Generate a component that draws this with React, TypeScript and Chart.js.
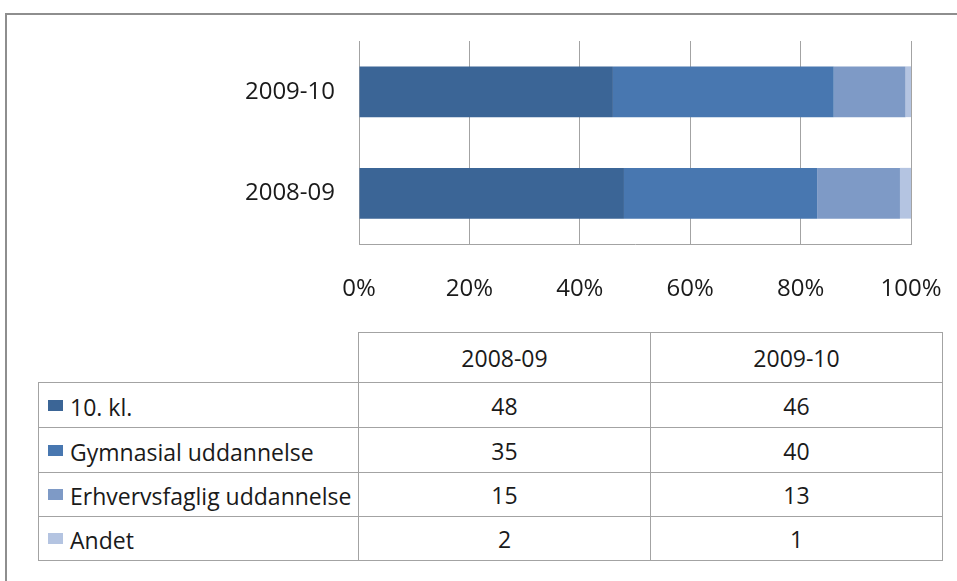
import React, { useEffect, useRef } from "react";
import { Chart, registerables } from "chart.js";

Chart.register(...registerables);

const categories = ["2008-09", "2009-10"];
const seriesNames = ["10. kl.", "Gymnasial uddannelse", "Erhvervsfaglig uddannelse", "Andet"];
const kl10 = [48, 46];
const gymnasial = [35, 40];
const erhverv = [15, 13];
const andet = [2, 1];
const seriesValues = [kl10, gymnasial, erhverv, andet];
const seriesColors = ["#3b6596", "#4877b0", "#7e9ac6", "#b4c4e1"];
const xTicks = [0, 20, 40, 60, 80, 100];

const FONT = "'Open Sans', 'Noto Sans', sans-serif";
const TEXT = "#1a1a1a";
const LINE = "#a3a3a3";

export default function App() {
  const ref = useRef<HTMLCanvasElement | null>(null);

  useEffect(() => {
    if (!ref.current) return;
    const chart = new Chart(ref.current, {
      type: "bar",
      data: {
        labels: categories,
        datasets: seriesNames.map((name, i) => ({
          label: name,
          data: seriesValues[i],
          backgroundColor: seriesColors[i],
          borderWidth: 0,
          categoryPercentage: 1,
          barPercentage: 0.5,
        })),
      },
      options: {
        indexAxis: "y",
        responsive: false,
        animation: false,
        devicePixelRatio: 1,
        layout: { padding: { left: 0, top: 41, right: 46, bottom: 0 } },
        plugins: { legend: { display: false }, tooltip: { enabled: false } },
        scales: {
          x: {
            stacked: true,
            min: 0,
            max: 100,
            afterBuildTicks: (scale: any) => {
              scale.ticks = xTicks.map((v) => ({ value: v }));
            },
            afterFit: (scale: any) => {
              scale.height = 56;
              scale.paddingLeft = 0;
              scale.paddingRight = 0;
            },
            ticks: {
              callback: (v: any) => v + "%",
              font: { family: FONT, size: 24 },
              color: TEXT,
              padding: 31,
              maxRotation: 0,
              autoSkip: false,
            },
            grid: { color: LINE, drawTicks: false, lineWidth: 1 },
            border: { display: true, color: LINE, width: 1 },
          },
          y: {
            stacked: true,
            reverse: true,
            afterFit: (scale: any) => {
              scale.width = 359;
              scale.paddingTop = 0;
              scale.paddingBottom = 0;
            },
            ticks: {
              font: { family: FONT, size: 24 },
              color: TEXT,
              padding: 24,
            },
            grid: { display: false, drawTicks: false },
            border: { display: true, color: LINE, width: 1 },
          },
        },
      },
    });
    return () => chart.destroy();
  }, []);

  const cellBase: React.CSSProperties = {
    border: `1px solid ${LINE}`,
    padding: 0,
    fontFamily: FONT,
    fontSize: 23,
    color: TEXT,
    textAlign: "center",
    verticalAlign: "middle",
  };
  const rowHeights = [45, 45, 44, 44];

  return (
    <div
      style={{
        position: "absolute",
        left: 0,
        top: 0,
        width: 957,
        height: 581,
        overflow: "hidden",
        background: "#ffffff",
      }}
    >
      <div
        style={{
          position: "absolute",
          left: 5,
          top: 13,
          width: 1000,
          height: 700,
          borderTop: "2px solid #8e8e8e",
          borderLeft: "2px solid #8e8e8e",
        }}
      />
      <canvas
        ref={ref}
        width={957}
        height={300}
        style={{ position: "absolute", left: 0, top: 0, width: 957, height: 300 }}
      />
      <table
        style={{
          position: "absolute",
          left: 38,
          top: 332,
          borderCollapse: "collapse",
          tableLayout: "fixed",
          width: 905,
        }}
      >
        <colgroup>
          <col style={{ width: 320 }} />
          <col style={{ width: 292 }} />
          <col style={{ width: 292 }} />
        </colgroup>
        <tbody>
          <tr style={{ height: 50 }}>
            <td style={{ ...cellBase, borderTop: "none", borderLeft: "none" }} />
            {categories.map((c) => (
              <td key={c} style={{ ...cellBase, paddingTop: 1 }}>
                {c}
              </td>
            ))}
          </tr>
          {seriesNames.map((name, i) => (
            <tr key={name} style={{ height: rowHeights[i] }}>
              <td style={{ ...cellBase, textAlign: "left", paddingLeft: 9, whiteSpace: "nowrap" }}>
                <span
                  style={{
                    display: "inline-block",
                    width: 15,
                    height: 11,
                    background: seriesColors[i],
                    marginRight: 7,
                    verticalAlign: "middle",
                    position: "relative",
                    top: -1,
                  }}
                />
                <span style={{ verticalAlign: "middle" }}>{name}</span>
              </td>
              {seriesValues[i].map((v, j) => (
                <td key={j} style={{ ...cellBase, paddingTop: 1 }}>
                  {v}
                </td>
              ))}
            </tr>
          ))}
        </tbody>
      </table>
    </div>
  );
}
